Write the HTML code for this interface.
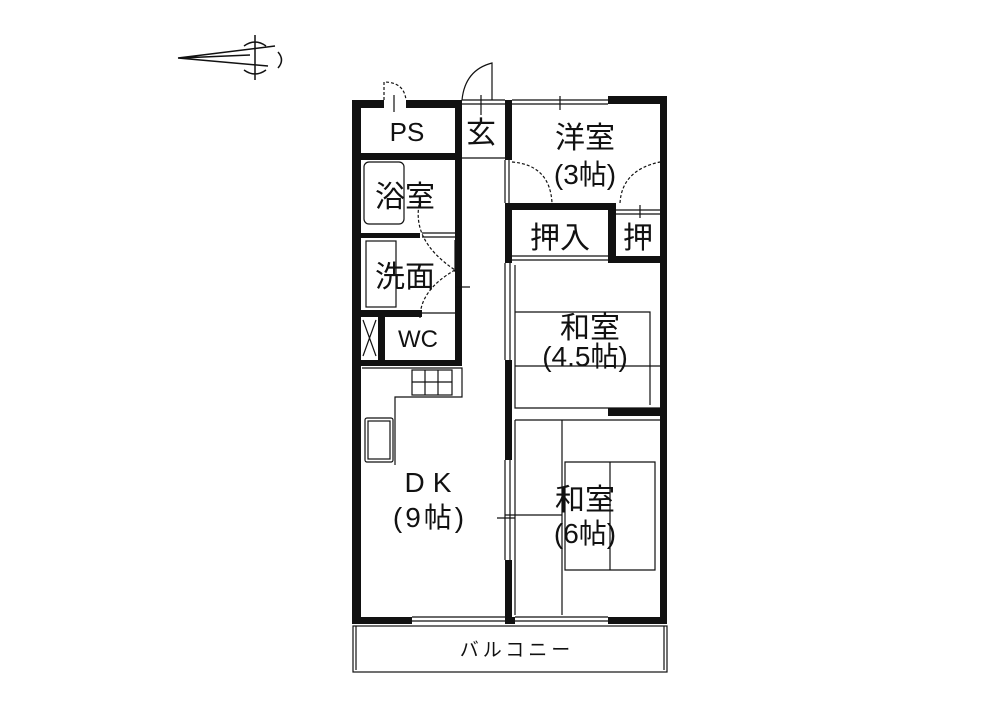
<!DOCTYPE html>
<html><head><meta charset="utf-8"><style>
html,body{margin:0;padding:0;background:#fff;}
svg{display:block}
text{font-family:"Liberation Sans","Noto Sans CJK JP",sans-serif;fill:#111;}
</style></head><body>
<svg width="1000" height="705" viewBox="0 0 1000 705" xmlns="http://www.w3.org/2000/svg">
<rect width="1000" height="705" fill="#fff"/>
<g stroke="#111" fill="none" stroke-width="1.5">
<path d="M178 58 L275 46 M178 58 L268 66 M180 58 L250 55"/>
<path d="M255 35 V80 M244 46 Q255 38 266 46 M244 70 Q255 78 266 70"/>
<path d="M278 52 Q285 60 278 68"/>
</g>
<g stroke="#111" fill="none" stroke-width="1.2" stroke-dasharray="3,2">
<path d="M384 100 V82 Q404 82 406 100"/>
<path d="M462 100 Q465 70 492 63 V100" stroke-dasharray="none"/>
<path d="M512 162 Q550 165 552 203"/>
<path d="M620 203 Q622 170 660 162"/>
<path d="M420 200 Q410 240 455 270"/>
<path d="M455 270 Q420 290 420 318"/>
</g>
<g fill="#111">
<rect x="352" y="100" width="9" height="522"/>
<rect x="352" y="100" width="32" height="8"/>
<rect x="406" y="100" width="56" height="8"/>
<rect x="455" y="100" width="7" height="265"/>
<rect x="352" y="153" width="110" height="7"/>
<rect x="352" y="233" width="68" height="5"/>
<rect x="352" y="310" width="70" height="7"/>
<rect x="352" y="360" width="110" height="6"/>
<rect x="378" y="317" width="7" height="45"/>
<rect x="505" y="100" width="7" height="60"/>
<rect x="505" y="203" width="7" height="60"/>
<rect x="505" y="360" width="7" height="100"/>
<rect x="505" y="560" width="7" height="64"/>
<rect x="608" y="96" width="59" height="8"/>
<rect x="660" y="96" width="7" height="528"/>
<rect x="512" y="203" width="98" height="7"/>
<rect x="608" y="203" width="8" height="60"/>
<rect x="608" y="256" width="59" height="7"/>
<rect x="608" y="408" width="59" height="8"/>
<rect x="608" y="617" width="59" height="7"/>
<rect x="352" y="617" width="60" height="7"/>
<rect x="505" y="617" width="10" height="7"/>
</g>
<g stroke="#111" fill="none" stroke-width="1.2">
<path d="M512 100 H608 M512 104 H608"/>
<path d="M462 100 H505 M462 104 H505 M462 158 H505"/>
<path d="M512 256 H608 M512 260 H608"/>
<path d="M412 617 H505 M412 621 H505"/>
<path d="M515 617 H608 M515 621 H608"/>
<path d="M505 160 V203 M509 160 V203"/>
<path d="M505 263 V360 M510 263 V360"/>
<path d="M505 460 V560 M510 460 V560"/>
<path d="M455 240 V272 M460 240 V272"/>
<path d="M422 233 H455 M422 237 H455 M422 313 H455"/>
<path d="M614 210 H660 M614 214 H660"/>
<path d="M515 265 V408 H660"/>
<path d="M515 312 H650 V405"/>
<path d="M515 366 H660"/>
<path d="M515 420 V615 M562 420 V615 M515 420 H660 M565 462 H655 V570 H565 Z M610 462 V570 M562 515 H505"/>
<rect x="364" y="162" width="40" height="62" rx="5"/>
<rect x="366" y="241" width="30" height="66"/>
<path d="M362 368 H462 V397 H395 V465"/>
<rect x="412" y="370" width="40" height="25"/>
<path d="M412 382 H452 M425 370 V395 M438 370 V395"/>
<rect x="365" y="418" width="28" height="44" rx="2"/>
<rect x="368" y="421" width="22" height="38"/>
<path d="M363 320 L376 356 M376 320 L363 356"/>
<rect x="353" y="626" width="314" height="46"/>
<path d="M356 626 V670 M664 626 V670"/>
<path d="M394 95 V112 M560 96 V110 M481 95 V115 M640 205 V218 M455 287 H470 M497 518 H515"/>
</g>
<g font-size="30" text-anchor="middle">
<text x="407" y="141" font-size="26">PS</text>
<text x="481" y="143">玄</text>
<text x="585" y="148">洋室</text>
<text x="585" y="184" font-size="28">(3帖)</text>
<text x="560" y="248">押入</text>
<text x="638" y="248">押</text>
<text x="405" y="207">浴室</text>
<text x="405" y="287">洗面</text>
<text x="418" y="347" font-size="24">WC</text>
<text x="590" y="338">和室</text>
<text x="585" y="366" font-size="28">(4.5帖)</text>
<text x="432" y="492" font-size="28" letter-spacing="8">DK</text>
<text x="430" y="527" font-size="28" letter-spacing="3">(9帖)</text>
<text x="585" y="510">和室</text>
<text x="585" y="543" font-size="28">(6帖)</text>
<text x="517" y="656" font-size="19" letter-spacing="4">バルコニー</text>
</g>
</svg>
</body></html>
